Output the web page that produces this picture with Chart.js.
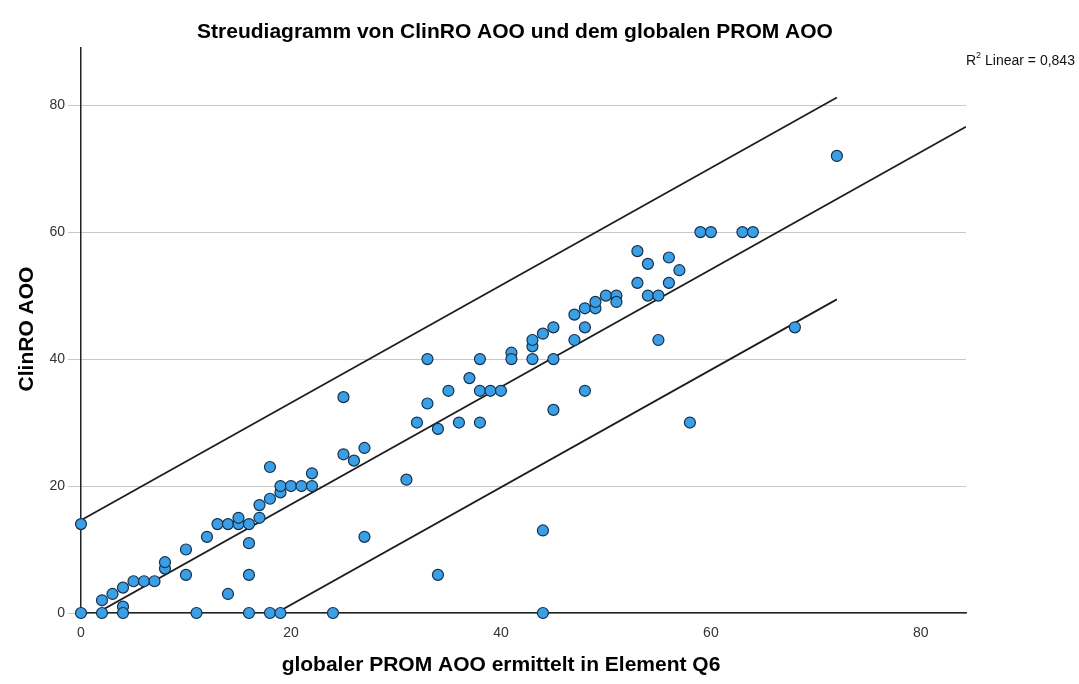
<!DOCTYPE html>
<html><head><meta charset="utf-8">
<script src="https://cdn.jsdelivr.net/npm/chart.js@4.4.1/dist/chart.umd.min.js"></script>
<style>html,body{margin:0;padding:0;background:#fff;}#wrap{width:1079px;height:684px;position:relative;}</style>
</head><body><div id="wrap"><canvas id="c" width="1079" height="684"></canvas></div>
<script>
// ---- data ----
const globalPromAOO = [0,0,2,2,3,4,4,4,5,6,7,8,8,10,10,11,12,13,14,14,15,15,16,16,16,16,17,17,18,18,18,19,19,19,20,21,22,22,24,25,25,26,27,27,31,32,33,33,34,34,35,36,37,38,38,38,39,40,41,41,43,43,43,44,44,44,45,45,45,47,47,48,48,48,49,49,50,51,51,53,53,54,54,55,55,56,56,57,58,59,60,63,64,68,72];
const clinroAOO     = [0,14,0,2,3,4,1,0,5,5,5,7,8,10,6,0,12,14,14,3,14,15,14,11,6,0,15,17,18,23,0,19,20,0,20,20,20,22,0,25,34,24,26,12,21,30,33,40,29,6,35,30,37,40,35,30,35,35,41,40,40,42,43,44,13,0,45,40,32,47,43,48,45,35,48,49,50,50,49,57,52,55,50,50,43,56,52,54,30,60,60,60,60,45,72];
const xTickValues = [0,20,40,60,80];
const yTickValues = [0,20,40,60,80];
// regression line and its two interval lines (end points)
const fitLineX   = [0, 84.3];
const fitLineY   = [-1.4, 76.6];
const upperLineX = [0, 72];
const upperLineY = [14.6, 81.2];
const lowerLineX = [0, 72];
const lowerLineY = [-17.2, 49.4];
const chartTitle = 'Streudiagramm von ClinRO AOO und dem globalen PROM AOO';
const xAxisTitle = 'globaler PROM AOO ermittelt in Element Q6';
const yAxisTitle = 'ClinRO AOO';
const r2Value = '0,843';

const FONT = '"Liberation Sans", Arial, sans-serif';
const pts = (xs, ys) => xs.map((x, i) => ({x: x, y: ys[i]}));

const textPlugin = {
  id: 'texts',
  afterDraw(chart) {
    const ctx = chart.ctx;
    ctx.save();
    ctx.fillStyle = '#000';
    ctx.textBaseline = 'middle';
    // main title
    ctx.font = 'bold 21px ' + FONT;
    ctx.textAlign = 'center';
    ctx.fillText(chartTitle, 515, 32);
    // x title
    ctx.fillText(xAxisTitle, 501, 665);
    // y title
    ctx.save();
    ctx.translate(27, 329);
    ctx.rotate(-Math.PI / 2);
    ctx.fillText(yAxisTitle, 0, 0);
    ctx.restore();
    // R2 label
    ctx.textAlign = 'left';
    ctx.fillStyle = '#111';
    let x = 966;
    ctx.font = '14px ' + FONT;
    ctx.fillText('R', x, 61);
    x += ctx.measureText('R').width;
    ctx.font = '9px ' + FONT;
    ctx.fillText('2', x, 56);
    x += ctx.measureText('2').width;
    ctx.font = '14px ' + FONT;
    ctx.fillText(' Linear = ' + r2Value, x, 61);
    ctx.restore();
  }
};

const lineStyle = {pointRadius: 0, borderColor: '#1e1e1e', borderWidth: 1.8, showLine: true, fill: false, tension: 0};

new Chart(document.getElementById('c'), {
  type: 'scatter',
  data: {
    datasets: [
      {
        label: 'ClinRO AOO',
        data: pts(globalPromAOO, clinroAOO),
        pointRadius: 5.5,
        pointHoverRadius: 5.5,
        pointBackgroundColor: '#3a9fe4',
        pointBorderColor: '#15304d',
        pointBorderWidth: 1.2,
        clip: false
      },
      Object.assign({label: 'fit', data: pts(fitLineX, fitLineY)}, lineStyle),
      Object.assign({label: 'upper', data: pts(upperLineX, upperLineY)}, lineStyle),
      Object.assign({label: 'lower', data: pts(lowerLineX, lowerLineY)}, lineStyle)
    ]
  },
  options: {
    responsive: false,
    animation: false,
    devicePixelRatio: 1,
    layout: {padding: {top: 48, right: 113, left: 0, bottom: 0}},
    plugins: {legend: {display: false}, tooltip: {enabled: false}, title: {display: false}},
    scales: {
      x: {
        type: 'linear', min: 0, max: 84.3,
        afterBuildTicks: s => { s.ticks = xTickValues.map(v => ({value: v})); },
        afterFit: s => { s.height = 71; },
        grid: {display: false, drawTicks: false},
        border: {display: true, color: '#222', width: 1.5},
        ticks: {padding: 12, color: '#333', font: {family: FONT, size: 14}}
      },
      y: {
        type: 'linear', min: 0, max: 89,
        afterBuildTicks: s => { s.ticks = yTickValues.map(v => ({value: v})); },
        afterFit: s => { s.width = 81; },
        grid: {color: '#c8c8c8', lineWidth: 1, drawTicks: true, tickLength: 13},
        border: {display: true, color: '#222', width: 1.5},
        ticks: {padding: 3, color: '#333', font: {family: FONT, size: 14}}
      }
    }
  },
  plugins: [textPlugin]
});
</script>
</body></html>
